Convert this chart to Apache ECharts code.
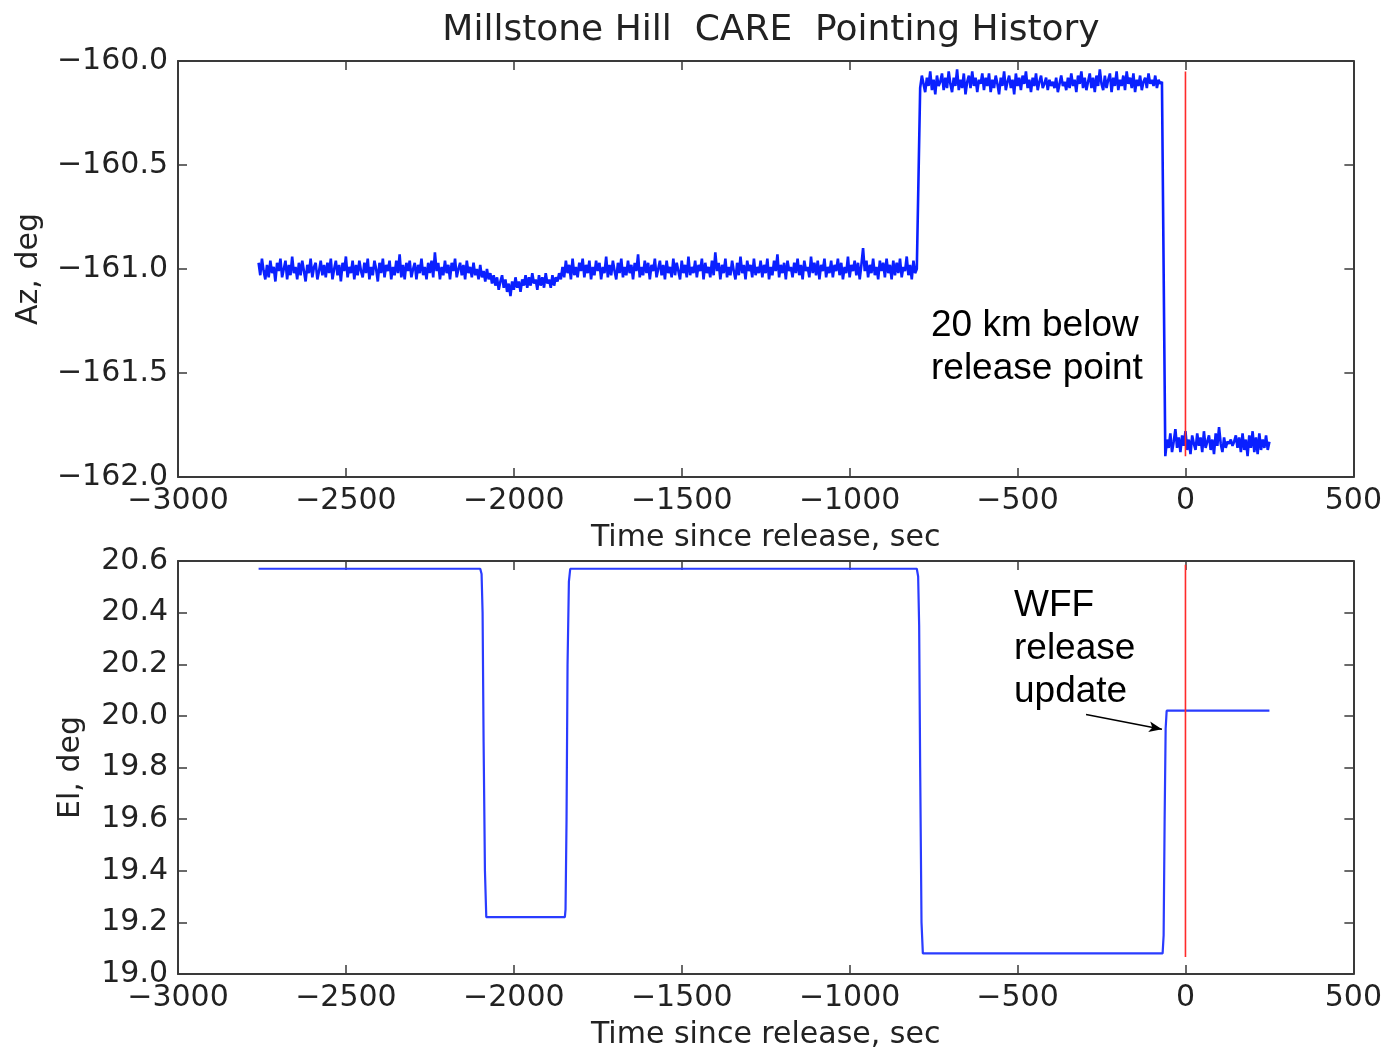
<!DOCTYPE html>
<html>
<head>
<meta charset="utf-8">
<script src="https://cdn.jsdelivr.net/npm/echarts@6/dist/echarts.min.js"></script>
<style>html,body{margin:0;padding:0;background:#fff;}#c{width:1385px;height:1051px;}</style>
</head>
<body>
<div id="c"></div>
<script>
// ---------------- DATA ----------------
const xTicks = [-3000, -2500, -2000, -1500, -1000, -500, 0, 500];
const azTicks = [-162.0, -161.5, -161.0, -160.5, -160.0];
const elTicks = [19.0, 19.2, 19.4, 19.6, 19.8, 20.0, 20.2, 20.4, 20.6];

// Azimuth samples (deg), 5 s apart
const azStep = 5;
const azSeg1Start = -2760;
const azSeg1 = [
  -160.97,-161.03,-160.95,-161.01,-161.05,-160.98,-161.04,-160.96,-161.02,-160.99,-161.06,-160.97,-161.01,-160.95,-161.04,-161.00,-160.96,-161.05,-160.98,-161.03,
  -160.94,-161.02,-160.99,-161.05,-160.97,-161.03,-160.96,-161.01,-161.06,-160.98,-161.02,-160.95,-161.04,-160.99,-160.97,-161.05,-161.01,-160.96,-161.03,-160.98,
  -161.04,-160.97,-161.02,-160.95,-161.05,-161.00,-160.96,-161.03,-160.98,-161.06,-160.97,-161.01,-160.94,-161.04,-160.99,-161.02,-160.96,-161.05,-160.98,-161.03,
  -160.96,-161.01,-161.04,-160.97,-161.02,-160.95,-161.05,-160.99,-161.03,-160.96,-161.00,-161.06,-160.97,-161.02,-160.95,-161.04,-160.98,-161.01,-160.96,-161.05,
  -160.99,-161.03,-160.96,-161.02,-160.93,-161.04,-160.98,-161.05,-160.97,-161.01,-160.96,-161.04,-161.00,-160.97,-161.05,-160.98,-161.02,-160.95,-161.03,-160.99,
  -161.05,-160.97,-161.02,-160.96,-161.04,-160.92,-161.01,-160.97,-161.05,-160.99,-161.03,-160.96,-161.02,-160.98,-161.05,-160.97,-161.01,-160.95,-161.04,-161.00,
  -160.97,-161.03,-160.98,-161.05,-160.96,-161.02,-160.99,-161.04,-160.97,-161.03,-161.00,-161.05,-160.98,-161.04,-161.01,-161.06,-161.00,-161.05,-161.02,-161.07,
  -161.03,-161.08,-161.04,-161.10,-161.06,-161.03,-161.09,-161.05,-161.11,-161.07,-161.13,-161.06,-161.10,-161.04,-161.09,-161.06,-161.11,-161.05,-161.08,-161.03,
  -161.09,-161.04,-161.08,-161.02,-161.07,-161.05,-161.10,-161.03,-161.08,-161.04,-161.09,-161.02,-161.07,-161.05,-161.09,-161.03,-161.08,-161.04,-161.06,-161.02,
  -161.05,-160.99,-161.04,-160.96,-161.02,-160.98,-161.05,-160.95,-161.03,-160.99,-161.04,-160.97,-161.01,-160.95,-161.04,-160.98,-161.02,-160.96,-161.05,-160.99,
  -161.03,-160.96,-161.01,-160.97,-161.05,-160.99,-161.02,-160.94,-161.04,-160.98,-161.03,-160.96,-161.01,-161.05,-160.97,-161.02,-160.95,-161.04,-160.99,-161.03,
  -160.96,-161.02,-160.98,-161.05,-160.97,-161.01,-160.93,-161.04,-160.99,-161.03,-160.96,-161.02,-160.97,-161.05,-160.98,-161.01,-160.95,-161.04,-161.00,-160.96,
  -161.03,-160.98,-161.05,-160.96,-161.02,-160.99,-161.04,-160.95,-161.03,-160.97,-161.01,-161.05,-160.96,-161.02,-160.98,-161.04,-160.94,-161.03,-160.99,-161.02,
  -160.96,-161.04,-160.98,-161.01,-160.95,-161.05,-160.97,-161.02,-160.99,-161.04,-160.96,-161.03,-160.92,-161.01,-160.97,-161.05,-160.98,-161.02,-160.95,-161.04,
  -160.99,-161.03,-160.96,-161.01,-161.05,-160.97,-161.03,-160.94,-161.02,-160.98,-161.05,-160.96,-161.01,-160.98,-161.04,-160.95,-161.03,-160.99,-161.02,-160.96,
  -161.04,-160.98,-161.02,-160.95,-161.05,-160.99,-161.03,-160.96,-161.01,-160.93,-161.04,-160.98,-161.02,-160.97,-161.05,-160.96,-161.01,-160.99,-161.04,-160.97,
  -161.02,-160.95,-161.03,-160.98,-161.05,-160.96,-161.01,-160.99,-161.04,-160.94,-161.02,-160.97,-161.03,-160.96,-161.05,-160.98,-161.01,-160.95,-161.04,-160.99,
  -161.02,-160.96,-161.04,-160.98,-161.01,-160.95,-161.03,-160.97,-161.05,-160.99,-161.02,-160.94,-161.04,-160.98,-161.01,-160.96,-161.03,-160.97,-161.05,-160.98,
  -160.90,-161.01,-160.96,-161.04,-160.98,-161.02,-160.95,-161.03,-160.99,-161.05,-160.96,-161.01,-160.97,-161.04,-160.95,-161.02,-160.98,-161.05,-160.96,-161.03,
  -160.97,-161.02,-160.95,-161.04,-160.99,-161.01,-160.94,-161.03,-160.98,-161.05,-160.96,-161.02,-161.00
];
const azSeg2Start = -790;
const azSeg2 = [
  -160.13,-160.07,-160.11,-160.15,-160.08,-160.12,-160.05,-160.14,-160.09,-160.16,-160.07,-160.12,-160.10,-160.06,-160.14,-160.08,-160.13,-160.05,-160.11,-160.15,
  -160.08,-160.12,-160.04,-160.14,-160.09,-160.13,-160.06,-160.16,-160.10,-160.07,-160.13,-160.05,-160.12,-160.08,-160.15,-160.09,-160.11,-160.06,-160.14,-160.08,
  -160.12,-160.06,-160.15,-160.09,-160.13,-160.07,-160.11,-160.16,-160.08,-160.12,-160.05,-160.14,-160.10,-160.07,-160.13,-160.09,-160.16,-160.06,-160.12,-160.08,
  -160.14,-160.07,-160.11,-160.05,-160.13,-160.09,-160.15,-160.08,-160.12,-160.06,-160.14,-160.10,-160.07,-160.13,-160.11,-160.08,-160.14,-160.09,-160.12,-160.10,
  -160.13,-160.08,-160.15,-160.11,-160.07,-160.12,-160.10,-160.14,-160.08,-160.13,-160.06,-160.12,-160.09,-160.15,-160.07,-160.11,-160.05,-160.13,-160.08,-160.14,
  -160.10,-160.06,-160.13,-160.08,-160.15,-160.07,-160.12,-160.04,-160.11,-160.14,-160.07,-160.13,-160.09,-160.06,-160.15,-160.08,-160.12,-160.05,-160.14,-160.09,
  -160.12,-160.07,-160.14,-160.05,-160.11,-160.08,-160.13,-160.06,-160.15,-160.09,-160.12,-160.07,-160.14,-160.10,-160.08,-160.13,-160.06,-160.11,-160.09,-160.12,
  -160.07,-160.13,-160.09,-160.11,-160.10
];
const azSeg3Start = -60;
const azSeg3 = [
  -161.90,-161.82,-161.86,-161.79,-161.88,-161.83,-161.77,-161.86,-161.81,-161.88,-161.80,-161.85,-161.78,-161.87,-161.82,-161.89,-161.80,-161.84,-161.87,-161.79,
  -161.85,-161.81,-161.88,-161.78,-161.86,-161.83,-161.80,-161.87,-161.82,-161.89,-161.79,-161.85,-161.76,-161.84,-161.88,-161.81,-161.86,-161.83,-161.84,-161.82,
  -161.85,-161.83,-161.80,-161.86,-161.81,-161.88,-161.79,-161.87,-161.82,-161.90,-161.80,-161.86,-161.78,-161.88,-161.81,-161.89,-161.79,-161.87,-161.82,-161.86,
  -161.80,-161.87,-161.83
];

// Elevation (deg)
const elTime = [-2760,-2100,-2096,-2093,-2090,-2086,-2082,-1848,-1846,-1843,-1840,-1836,-1832,
                -800,-796,-793,-790,-786,-782,-68,-65,-62,-59,-56,250];
const elVal  = [20.57,20.57,20.55,20.40,19.90,19.40,19.22,19.22,19.25,19.60,20.20,20.52,20.57,
                20.57,20.54,20.35,19.80,19.20,19.08,19.08,19.15,19.60,19.95,20.02,20.02];

// release marker (t = 0)
const releaseTime = 0;
const azReleaseSpan = [-160.05, -161.90];
const elReleaseSpan = [20.585, 19.066];

// arrow annotation (data coords)
const arrowFrom = [-296, 20.005];
const arrowTo = [-70, 19.948];

// ---------------- BUILD ----------------
function seg(start, vals) { return vals.map((v, i) => [start + i * azStep, v]); }
const azData = [].concat(seg(azSeg1Start, azSeg1), seg(azSeg2Start, azSeg2), seg(azSeg3Start, azSeg3));
const elData = elTime.map((t, i) => [t, elVal[i]]);

const FONT = 'DejaVu Sans';
const TXT = '#222';
const AX = '#3a3a3a';
const FS = 30;
const minus = s => String(s).replace('-', '\u2212');

function xAx(grid, pos, labels) {
  return {
    type: 'value', gridIndex: grid, position: pos, min: -3000, max: 500, interval: 500,
    axisLine: { show: true, onZero: false, lineStyle: { color: AX, width: 2 } },
    axisTick: { show: true, inside: true, length: 9, lineStyle: { color: AX, width: 1.5 } },
    splitLine: { show: false },
    axisLabel: labels ? { show: true, margin: 9, color: TXT, fontFamily: FONT, fontSize: FS, formatter: v => minus(v) } : { show: false },
    name: labels ? 'Time since release, sec' : '',
    nameLocation: 'middle', nameGap: 46,
    nameTextStyle: { color: TXT, fontFamily: FONT, fontSize: FS }
  };
}
function yAx(grid, pos, min, max, interval, labels, name, gap) {
  return {
    type: 'value', gridIndex: grid, position: pos, min: min, max: max, interval: interval,
    axisLine: { show: true, onZero: false, lineStyle: { color: AX, width: 2 } },
    axisTick: { show: true, inside: true, length: 9, lineStyle: { color: AX, width: 1.5 } },
    splitLine: { show: false },
    axisLabel: labels ? { show: true, margin: 10, color: TXT, fontFamily: FONT, fontSize: FS, formatter: v => minus(v.toFixed(1)) } : { show: false },
    name: labels ? name : '', nameLocation: 'middle', nameGap: gap, nameRotate: 90,
    nameTextStyle: { color: TXT, fontFamily: FONT, fontSize: FS }
  };
}

const chart = echarts.init(document.getElementById('c'), null, { renderer: 'canvas' });
chart.setOption({
  animation: false,
  backgroundColor: '#fff',
  title: {
    text: 'Millstone Hill  CARE  Pointing History',
    left: 766, textAlign: 'center', top: 8,
    textStyle: { color: TXT, fontFamily: FONT, fontSize: 36, fontWeight: 'normal' }
  },
  grid: [
    { left: 178, top: 61, width: 1178, height: 416 },
    { left: 178, top: 561, width: 1178, height: 417 }
  ],
  xAxis: [xAx(0, 'bottom', true), xAx(0, 'top', false), xAx(1, 'bottom', true), xAx(1, 'top', false)],
  yAxis: [
    yAx(0, 'left', -162, -160, 0.5, true, 'Az, deg', 134),
    yAx(0, 'right', -162, -160, 0.5, false),
    yAx(1, 'left', 19.0, 20.6, 0.2, true, 'El, deg', 92),
    yAx(1, 'right', 19.0, 20.6, 0.2, false)
  ],
  series: [
    { type: 'line', xAxisIndex: 0, yAxisIndex: 0, data: azData, showSymbol: false, symbol: 'none',
      sampling: false, lineStyle: { color: '#0a20ff', width: 2.6 }, z: 3 },
    { type: 'line', xAxisIndex: 0, yAxisIndex: 0, data: azReleaseSpan.map(v => [releaseTime, v]),
      showSymbol: false, symbol: 'none', lineStyle: { color: '#ff2a2a', width: 1.6 }, z: 4 },
    { type: 'line', xAxisIndex: 2, yAxisIndex: 2, data: elData, showSymbol: false, symbol: 'none',
      lineStyle: { color: '#2a3cff', width: 2.2 }, z: 3,
      markLine: {
        silent: true, symbol: ['none', 'arrow'], symbolSize: [8, 13], animation: false,
        label: { show: false },
        lineStyle: { color: '#000', width: 1.5, type: 'solid' },
        data: [[{ coord: arrowFrom }, { coord: arrowTo }]]
      } },
    { type: 'line', xAxisIndex: 2, yAxisIndex: 2, data: elReleaseSpan.map(v => [releaseTime, v]),
      showSymbol: false, symbol: 'none', lineStyle: { color: '#ff2a2a', width: 1.6 }, z: 4 }
  ],
  graphic: [
    { type: 'text', left: 931, top: 304, style: { text: '20 km below\nrelease point', fill: '#000',
      font: '37px "Liberation Sans", Arial, sans-serif', lineHeight: 43 } },
    { type: 'text', left: 1014, top: 584, style: { text: 'WFF\nrelease\nupdate', fill: '#000',
      font: '37px "Liberation Sans", Arial, sans-serif', lineHeight: 43 } }
  ]
});
</script>
</body>
</html>
